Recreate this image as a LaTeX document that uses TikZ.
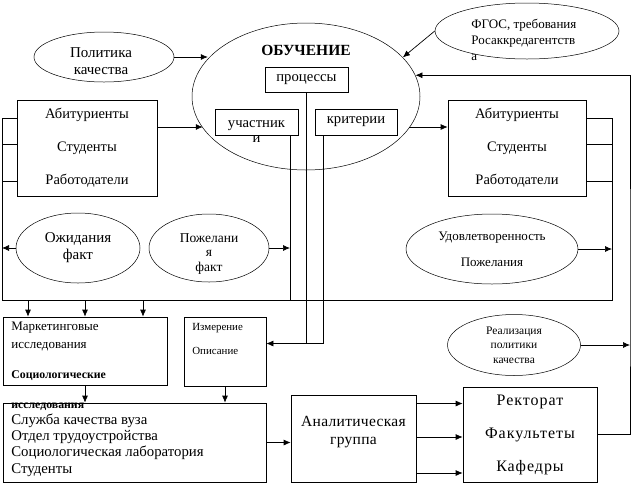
\documentclass[tikz,border=0pt]{standalone}
\usepackage{fontspec}
\setmainfont{Liberation Serif}
\usetikzlibrary{shapes.geometric,arrows.meta}

\begin{document}
\begin{tikzpicture}[x=1pt,y=-1pt,line width=0.7pt,
  box/.style={draw,inner sep=0pt,align=center},
  oval/.style={draw,ellipse,inner sep=0pt,align=center,line width=0.5pt},
  txt/.style={inner sep=0pt,align=center},
  arr/.style={-{Latex[length=7pt,width=6pt]}},
  big/.style={font=\fontsize{14.5}{33}\selectfont},
  mid/.style={font=\fontsize{14.7}{17}\selectfont},
  sml/.style={font=\fontsize{11.5}{14.5}\selectfont}]
\useasboundingbox (0,0) rectangle (632,483);

\node[oval,minimum width=140,minimum height=50] (pol) at (104,57) {};
\node[txt,font=\fontsize{15}{17}\selectfont] (pol-t) at (101,61) {Политика\\качества};
\node[oval,minimum width=228,minimum height=147] (obuch) at (306,96.5) {};
\node[txt,font=\bfseries\fontsize{15.5}{15}\selectfont] (obuch-t) at (306,50) {ОБУЧЕНИЕ};
\node[box,mid,minimum width=83,minimum height=25] (proc) at (306.5,79.5) {процессы};
\node[box,minimum width=83,minimum height=26] (uch) at (256.5,122) {};
\node[txt,font=\fontsize{14.7}{15}\selectfont] (uch-t) at (256.5,132) {участник\\и};
\node[box,mid,minimum width=82,minimum height=26] (krit) at (356,122) {критерии};
\node[oval,minimum width=184,minimum height=56] (fgos) at (527,31) {};
\node[txt,align=left,anchor=west,font=\fontsize{13}{16}\selectfont] (fgos-t) at (471,40) {ФГОС, требования\\Росаккредагентств\\а};

\node[box,big,minimum width=140,minimum height=96] (abl) at (87,148) {Абитуриенты\\Студенты\\Работодатели};
\node[box,big,minimum width=138,minimum height=96] (abr) at (517,148) {Абитуриенты\\Студенты\\Работодатели};

\node[oval,font=\fontsize{15}{17}\selectfont,minimum width=124,minimum height=70] (ozh) at (78,248) {Ожидания\\факт};
\node[oval,minimum width=120,minimum height=68] (pozh) at (209,248) {};
\node[txt,font=\fontsize{13.5}{14.5}\selectfont] (pozh-t) at (209,254) {Пожелани\\я\\факт};
\node[oval,font=\fontsize{13}{26}\selectfont,minimum width=172,minimum height=70] (udov) at (492,249) {Удовлетворенность\\Пожелания};

\node[box,minimum width=164,minimum height=68] (mark) at (85,351) {};
\node[txt,align=left,anchor=north west,font=\fontsize{13}{18}\selectfont] (mark-t) at (11,322) {Маркетинговые\\исследования\\[12pt]{\bfseries\fontsize{11.8}{18}\selectfont Социологические}\\[12pt]{\bfseries\fontsize{11.8}{18}\selectfont исследования}};
\node[box,minimum width=82,minimum height=69] (izm) at (225,351.5) {};
\node[txt,align=left,anchor=north west,font=\fontsize{10.9}{24}\selectfont] (izm-t) at (192,323) {Измерение\\Описание};
\node[oval,sml,minimum width=133,minimum height=61] (real) at (514,345) {Реализация\\политики\\качества};

\node[box,minimum width=263,minimum height=79] (sluzh) at (134.5,442.5) {};
\node[txt,align=left,anchor=west,font=\fontsize{14.8}{16.3}\selectfont] (sluzh-t) at (11,445) {Служба качества вуза\\Отдел трудоустройства\\Социологическая лаборатория\\Студенты};
\node[box,minimum width=125,minimum height=87] (anal) at (353.5,438.5) {};
\node[txt,font=\fontsize{15.5}{18}\selectfont\addfontfeature{LetterSpace=2}] (anal-t) at (353.5,432) {Аналитическая\\группа};
\node[box,font=\fontsize{16}{33}\selectfont\addfontfeature{LetterSpace=6},minimum width=134,minimum height=95] (rek) at (530,434.5) {Ректорат\\Факультеты\\Кафедры};

\coordinate (fl) at (2,300);
\coordinate (fr) at (612,300);
\coordinate (rail) at (630,300);

\draw ([yshift=30pt]abl.west) -| (fl) -- (fr) |- ([yshift=30pt]abr.east);
\coordinate (l2) at ([yshift=4pt]abl.west);
\coordinate (l3) at ([yshift=-33pt]abl.west);
\draw (l2) -- (l2 -| fl);
\draw (l3) -- (l3 -| fl);
\coordinate (r2) at ([yshift=4pt]abr.east);
\coordinate (r3) at ([yshift=-33pt]abr.east);
\draw (r2) -- (r2 -| fr);
\draw (r3) -- (r3 -| fr);

\draw[arr] (pol.east) -- (pol.east -| obuch.159);
\draw[arr] (fgos.west) -- (obuch.22);
\coordinate (a1) at ([yshift=21pt]abl.east);
\draw[arr] (a1) -- (a1 -| obuch.197);
\coordinate (a2) at ([yshift=21pt]abr.west);
\draw[arr] (a2 -| obuch.343) -- (a2);
\draw[arr] (rek.east) -| (rail) |- (obuch.11);

\draw[arr] (ozh.west) -- (ozh.west -| fl);
\draw[arr] (udov.east) -- (udov.east -| fr);
\draw[arr] (real.east) -- (real.east -| rail);

\coordinate (ul) at ([xshift=33.5pt]uch.south);
\draw (ul) -- (ul |- fl);
\draw[arr] (pozh.east) -- (pozh.east -| ul);
\coordinate (kl) at ([xshift=-33pt]krit.south);
\coordinate (im) at ([yshift=8pt]izm.east);
\draw[arr] (kl) |- (im);
\draw (proc.south) -- (proc.south |- im);

\coordinate (m1) at ([xshift=-57pt]mark.north);
\coordinate (m3) at ([xshift=58pt]mark.north);
\draw[arr] (m1 |- fl) -- (m1);
\draw[arr] (mark.north |- fl) -- (mark.north);
\draw[arr] (m3 |- fl) -- (m3);

\draw[arr] (mark.south) -- (mark.south |- sluzh.north);
\draw[arr] (izm.south) -- (izm.south |- sluzh.north);
\draw[arr] (sluzh.east) -- (sluzh.east -| anal.west);
\coordinate (g1) at ([yshift=35pt]anal.east);
\coordinate (g2) at ([yshift=1.5pt]anal.east);
\coordinate (g3) at ([yshift=-34.5pt]anal.east);
\draw[arr] (g1) -- (g1 -| rek.west);
\draw[arr] (g2) -- (g2 -| rek.west);
\draw[arr] (g3) -- (g3 -| rek.west);
\end{tikzpicture}
\end{document}
